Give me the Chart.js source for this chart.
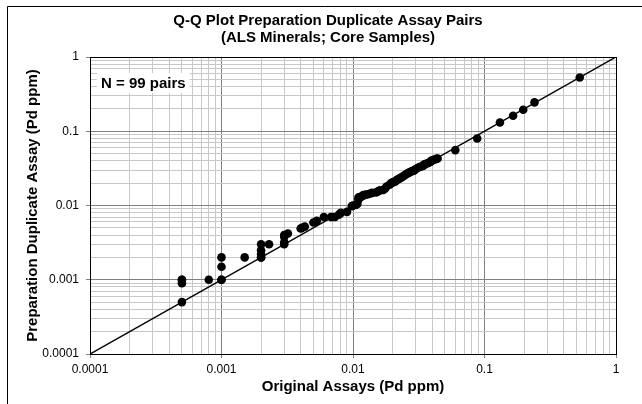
<!DOCTYPE html>
<html><head><meta charset="utf-8">
<script src="https://cdn.jsdelivr.net/npm/chart.js@4/dist/chart.umd.min.js"></script>
<style>html,body{margin:0;padding:0;background:#fff;}</style>
</head><body>
<canvas id="c" width="642" height="404"></canvas>
<script>
const originalAssays = [
  0.0005,0.0005,0.0005,0.0005,0.0008,0.001,0.001,0.001,0.001,0.0015,
  0.002,0.002,0.002,0.002,0.002,0.0023,0.003,0.003,0.003,0.003,
  0.0032,0.004,0.0041,0.0043,0.005,0.0052,0.0053,0.006,0.0068,0.007,
  0.0073,0.0078,0.008,0.0081,0.009,0.0098,0.01,0.0105,0.0108,0.011,
  0.011,0.0112,0.0118,0.012,0.0125,0.013,0.0135,0.014,0.015,0.0155,
  0.016,0.017,0.0175,0.018,0.019,0.0195,0.020,0.0205,0.021,0.0215,
  0.022,0.0225,0.023,0.0235,0.024,0.0245,0.025,0.0255,0.026,0.0265,
  0.027,0.0275,0.028,0.029,0.0295,0.03,0.031,0.032,0.033,0.034,
  0.0345,0.035,0.036,0.037,0.038,0.039,0.0395,0.04,0.041,0.042,
  0.043,0.044,0.06,0.088,0.131,0.165,0.197,0.24,0.53
];
const duplicateAssays = [
  0.0005,0.0009,0.001,0.001,0.001,0.001,0.001,0.0015,0.002,0.002,
  0.002,0.002,0.0022,0.0025,0.003,0.003,0.003,0.0032,0.0038,0.004,
  0.0042,0.0049,0.005,0.0052,0.0059,0.006,0.0062,0.007,0.007,0.007,
  0.007,0.0075,0.0078,0.008,0.0082,0.0098,0.01,0.0102,0.0105,0.012,
  0.0128,0.013,0.0135,0.0138,0.014,0.0142,0.0145,0.0148,0.015,0.0155,
  0.016,0.0162,0.0168,0.018,0.019,0.02,0.0205,0.0208,0.021,0.022,
  0.0225,0.023,0.0235,0.024,0.0248,0.0252,0.026,0.0265,0.027,0.0275,
  0.028,0.0285,0.029,0.0295,0.03,0.031,0.032,0.033,0.0335,0.034,
  0.035,0.036,0.0365,0.037,0.038,0.039,0.04,0.0405,0.041,0.042,
  0.0425,0.043,0.0557,0.08,0.131,0.162,0.195,0.245,0.53
];
const oneToOneLine = [0.0001, 1];
const decadeTicks = [0.0001, 0.001, 0.01, 0.1, 1];
const tickLabels = ['0.0001', '0.001', '0.01', '0.1', '1'];
const minorMultipliers = [2, 3, 4, 5, 6, 7, 8, 9];
const chartTitle = ['Q-Q Plot Preparation Duplicate Assay Pairs', '(ALS Minerals; Core Samples)'];
const xTitle = 'Original Assays (Pd ppm)';
const yTitle = 'Preparation Duplicate Assay (Pd ppm)';
const noteText = 'N = 99 pairs';

const FONT = '"Liberation Sans", Arial, sans-serif';
const tickValues = [];
decadeTicks.forEach((d, i) => {
  tickValues.push(d);
  if (i < decadeTicks.length - 1) minorMultipliers.forEach(m => tickValues.push(d * m));
});
const majorIndex = v => decadeTicks.findIndex(d => Math.abs(d - v) < d * 1e-6);
const isMajor = v => majorIndex(v) >= 0;

const points = originalAssays.map((x, i) => ({x, y: duplicateAssays[i]}));
const linePts = oneToOneLine.map(v => ({x: v, y: v}));

const decor = {
  id: 'decor',
  beforeDatasetsDraw(chart) {
    const {ctx, chartArea: a} = chart;
    ctx.save();
    ctx.strokeStyle = '#000';
    ctx.lineWidth = 1;
    ctx.strokeRect(Math.round(a.left) + 0.5, Math.round(a.top) + 0.5,
                   Math.round(a.right - a.left), Math.round(a.bottom - a.top));
    ctx.restore();
  },
  afterDatasetsDraw(chart) {
    const {ctx, chartArea: a} = chart;
    ctx.save();
    ctx.font = 'bold 15px ' + FONT;
    const w = ctx.measureText(noteText).width;
    ctx.fillStyle = '#fff';
    ctx.fillRect(a.left + 7, a.top + 16, w + 8, 20);
    ctx.fillStyle = '#000';
    ctx.textBaseline = 'alphabetic';
    ctx.textAlign = 'left';
    ctx.fillText(noteText, a.left + 11, a.top + 31);
    ctx.restore();
  },
  afterDraw(chart) {
    const {ctx} = chart;
    ctx.save();
    ctx.strokeStyle = '#000';
    ctx.lineWidth = 1;
    ctx.beginPath();
    ctx.moveTo(7.5, 404);
    ctx.lineTo(7.5, 6.5);
    ctx.lineTo(642, 6.5);
    ctx.stroke();
    ctx.fillStyle = '#000';
    ctx.font = 'bold 15px ' + FONT;
    ctx.textAlign = 'center';
    ctx.textBaseline = 'middle';
    ctx.fillText(chartTitle[0], 328, 21);
    ctx.fillText(chartTitle[1], 328, 38);
    ctx.restore();
  }
};

const gridColor = ctx => (ctx.tick && isMajor(ctx.tick.value)) ? '#808080' : '#c8c8c8';
const tickColor = ctx => (ctx.tick && isMajor(ctx.tick.value)) ? '#808080' : 'rgba(0,0,0,0)';
const tickCb = v => { const i = majorIndex(v); return i >= 0 ? tickLabels[i] : ''; };

new Chart(document.getElementById('c'), {
  data: {
    datasets: [
      {type: 'scatter', data: points, backgroundColor: '#000', borderWidth: 0,
       pointRadius: 4.3, pointHoverRadius: 4.3, order: 1},
      {type: 'line', data: linePts, borderColor: '#000', borderWidth: 1.5,
       pointRadius: 0, fill: false, order: 2}
    ]
  },
  options: {
    responsive: false,
    animation: false,
    devicePixelRatio: 1,
    layout: {padding: {left: 8, right: 26, top: 57, bottom: 0}},
    plugins: {legend: {display: false}, tooltip: {enabled: false}, title: {display: false}},
    scales: {
      x: {
        type: 'logarithmic', min: 0.0001, max: 1, position: 'bottom',
        afterBuildTicks: s => { s.ticks = tickValues.map(v => ({value: v, major: isMajor(v)})); },
        afterFit: s => { s.height = 50; },
        grid: {color: gridColor, tickColor: tickColor, tickLength: 4, drawTicks: true, lineWidth: 1},
        border: {display: false},
        ticks: {autoSkip: false, maxRotation: 0, minRotation: 0, padding: 4, color: '#000',
                font: {family: FONT, size: 12}, callback: tickCb},
        title: {display: true, text: xTitle, color: '#000', padding: {top: 0, bottom: 8},
                font: {family: FONT, size: 15, weight: 'bold'}}
      },
      y: {
        type: 'logarithmic', min: 0.0001, max: 1, position: 'left',
        afterBuildTicks: s => { s.ticks = tickValues.map(v => ({value: v, major: isMajor(v)})); },
        afterFit: s => { s.width = 82; },
        grid: {color: gridColor, tickColor: tickColor, tickLength: 4, drawTicks: true, lineWidth: 1},
        border: {display: false},
        ticks: {autoSkip: false, padding: 7, color: '#000',
                font: {family: FONT, size: 12}, callback: tickCb},
        title: {display: true, text: yTitle, color: '#000', padding: {top: 16, bottom: 0},
                font: {family: FONT, size: 15, weight: 'bold'}}
      }
    }
  },
  plugins: [decor]
});
</script>
</body></html>
